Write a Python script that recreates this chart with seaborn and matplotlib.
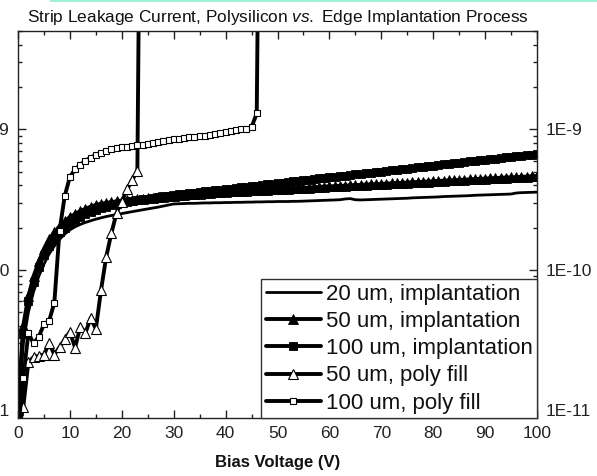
import numpy as np
import matplotlib
matplotlib.use("Agg")
import matplotlib.pyplot as plt
import seaborn as sns
from matplotlib.ticker import MultipleLocator, FixedLocator, FixedFormatter, LogLocator, NullFormatter
from matplotlib.patches import Rectangle

# ---------------- data (currents in units of 1E-10 A) ----------------
volts_impl = list(range(0, 101))

i_20um_impl = [
    0.10, 0.30, 0.50, 0.70, 0.90, 1.10, 1.30, 1.48, 1.65, 1.80,
    1.93, 2.03, 2.11, 2.18, 2.24, 2.30, 2.35, 2.40, 2.44, 2.48,
    2.52, 2.56, 2.60, 2.64, 2.68, 2.72, 2.76, 2.80, 2.85, 2.90,
    2.95, 2.96, 2.97, 2.98, 2.98, 2.99, 3.00, 3.00, 3.01, 3.01,
    3.02, 3.02, 3.03, 3.03, 3.04, 3.04, 3.05, 3.05, 3.06, 3.06,
    3.07, 3.07, 3.07, 3.08, 3.08, 3.09, 3.10, 3.11, 3.12, 3.13,
    3.14, 3.15, 3.16, 3.20, 3.22, 3.16, 3.15, 3.16, 3.17, 3.18,
    3.19, 3.20, 3.21, 3.22, 3.23, 3.24, 3.26, 3.27, 3.28, 3.29,
    3.30, 3.31, 3.33, 3.34, 3.35, 3.36, 3.37, 3.38, 3.40, 3.41,
    3.42, 3.43, 3.44, 3.45, 3.46, 3.47, 3.53, 3.55, 3.56, 3.57,
    3.58,
]

i_50um_impl = [
    0.10, 0.40, 0.65, 0.90, 1.15, 1.40, 1.65, 1.85, 2.05, 2.22,
    2.38, 2.50, 2.62, 2.72, 2.82, 2.90, 2.96, 3.00, 3.04, 3.08,
    3.12, 3.14, 3.17, 3.20, 3.22, 3.25, 3.27, 3.30, 3.32, 3.35,
    3.38, 3.40, 3.43, 3.45, 3.48, 3.50, 3.52, 3.54, 3.56, 3.58,
    3.60, 3.62, 3.63, 3.65, 3.66, 3.68, 3.70, 3.71, 3.73, 3.74,
    3.76, 3.78, 3.80, 3.81, 3.83, 3.85, 3.86, 3.88, 3.90, 3.92,
    3.93, 3.95, 3.97, 3.98, 4.00, 4.02, 4.03, 4.05, 4.07, 4.08,
    4.10, 4.12, 4.14, 4.15, 4.17, 4.19, 4.21, 4.23, 4.24, 4.26,
    4.28, 4.30, 4.32, 4.34, 4.35, 4.37, 4.39, 4.41, 4.43, 4.45,
    4.47, 4.49, 4.51, 4.53, 4.55, 4.56, 4.58, 4.60, 4.62, 4.64,
    4.66,
]

i_100um_impl = [
    0.10, 0.35, 0.60, 0.82, 1.05, 1.27, 1.48, 1.67, 1.85, 2.00,
    2.15, 2.28, 2.40, 2.50, 2.60, 2.68, 2.75, 2.82, 2.88, 2.94,
    3.00, 3.05, 3.10, 3.14, 3.18, 3.22, 3.26, 3.30, 3.34, 3.38,
    3.42, 3.45, 3.48, 3.52, 3.55, 3.59, 3.62, 3.66, 3.69, 3.73,
    3.76, 3.80, 3.84, 3.87, 3.91, 3.95, 3.99, 4.03, 4.07, 4.11,
    4.15, 4.19, 4.23, 4.27, 4.31, 4.35, 4.39, 4.43, 4.48, 4.52,
    4.56, 4.61, 4.65, 4.70, 4.74, 4.79, 4.83, 4.88, 4.93, 4.98,
    5.02, 5.07, 5.12, 5.17, 5.22, 5.27, 5.32, 5.37, 5.42, 5.48,
    5.53, 5.58, 5.64, 5.69, 5.75, 5.80, 5.86, 5.92, 5.97, 6.03,
    6.09, 6.15, 6.21, 6.27, 6.33, 6.39, 6.45, 6.51, 6.57, 6.63,
    6.70,
]

volts_50um_poly = list(range(0, 25))
i_50um_poly = [
    0.07, 0.105, 0.22, 0.24, 0.245, 0.25, 0.30, 0.25, 0.282, 0.32,
    0.363, 0.28, 0.395, 0.357, 0.455, 0.38, 0.72, 1.24, 1.83, 2.55,
    3.06, 3.74, 4.36, 5.10, 100000.0,
]

volts_100um_poly = list(range(0, 48))
i_100um_poly = [
    0.07, 0.17, 0.355, 0.30, 0.335, 0.41, 0.435, 0.585, 1.90, 3.36,
    4.60, 5.20, 5.60, 6.00, 6.30, 6.60, 6.85, 7.05, 7.25, 7.40,
    7.50, 7.55, 7.60, 7.70, 7.80, 7.90, 8.00, 8.15, 8.30, 8.40,
    8.50, 8.60, 8.70, 8.80, 8.85, 8.95, 9.05, 9.20, 9.35, 9.50,
    9.65, 9.80, 9.90, 10.00, 10.05, 10.40, 13.00, 100000.0,
]

series_labels = ["20 um, implantation", "50 um, implantation", "100 um, implantation",
                 "50 um, poly fill", "100 um, poly fill"]
y_major_ticks = [1e-11, 1e-10, 1e-9]
y_tick_labels = ["1E-11", "1E-10", "1E-9"]
unit = 1e-10

# ---------------- style ----------------
sns.set_style("ticks")
plt.rcParams["font.family"] = ["Liberation Sans", "DejaVu Sans"]
plt.rcParams["mathtext.fontset"] = "custom"
plt.rcParams["mathtext.rm"] = "Liberation Sans"
plt.rcParams["mathtext.it"] = "Liberation Sans:italic"
plt.rcParams["text.color"] = "#111111"
plt.rcParams["axes.labelcolor"] = "#111111"
plt.rcParams["xtick.color"] = "#222222"
plt.rcParams["ytick.color"] = "#222222"

fig = plt.figure(figsize=(5.97, 4.76), dpi=100)
ax = fig.add_axes([18 / 597, 1 - 418 / 476, 519 / 597, 387 / 476])

common = dict(ax=ax, color="black", legend=False, sort=False, errorbar=None)

sns.lineplot(x=volts_impl, y=np.array(i_20um_impl) * unit, linewidth=2.0,
             label=series_labels[0], **common)
sns.lineplot(x=volts_impl, y=np.array(i_50um_impl) * unit, linewidth=2.8,
             marker="^", markersize=7, markerfacecolor="black",
             markeredgecolor="black", markeredgewidth=0.6,
             label=series_labels[1], **common)
sns.lineplot(x=volts_impl, y=np.array(i_100um_impl) * unit, linewidth=2.8,
             marker="s", markersize=5.5, markerfacecolor="black",
             markeredgecolor="black", markeredgewidth=0.6,
             label=series_labels[2], **common)
sns.lineplot(x=volts_50um_poly, y=np.array(i_50um_poly) * unit, linewidth=2.8,
             marker="^", markersize=6.5, markerfacecolor="white",
             markeredgecolor="black", markeredgewidth=0.8,
             label=series_labels[3], **common)
sns.lineplot(x=volts_100um_poly, y=np.array(i_100um_poly) * unit, linewidth=2.8,
             marker="s", markersize=4.8, markerfacecolor="white",
             markeredgecolor="black", markeredgewidth=0.8,
             label=series_labels[4], **common)

ax.set_yscale("log")
ax.set_xlim(0, 100)
ax.set_ylim(8.84e-12, 5.02e-9)
ax.xaxis.set_major_locator(MultipleLocator(10))
ax.xaxis.set_minor_locator(MultipleLocator(5))
ax.yaxis.set_major_locator(FixedLocator(y_major_ticks))
ax.yaxis.set_major_formatter(FixedFormatter(y_tick_labels))
ax.yaxis.set_minor_locator(LogLocator(base=10, subs=np.arange(2, 10)))
ax.yaxis.set_minor_formatter(NullFormatter())

ax.tick_params(which="both", direction="in", top=True, right=True,
               labelleft=True, labelright=True, labelsize=12.5, pad=6, width=1.0)
ax.tick_params(which="major", length=5.5)
ax.tick_params(which="minor", length=3)
for s in ax.spines.values():
    s.set_linewidth(1.0)
    s.set_color("#222222")

ax.set_ylabel("")
ax.set_xlabel("Bias Voltage (V)", fontsize=12, fontweight="bold", labelpad=10)

fig.text(277.5 / 597, 1 - 17.5 / 476,
         r"Strip Leakage Current, Polysilicon $\mathit{vs.}$ Edge Implantation Process",
         ha="center", va="center", fontsize=12.4)

handles = ax.get_lines()[:5]
leg = ax.legend(handles, series_labels, loc="lower right", bbox_to_anchor=(1, 0),
                borderaxespad=0, frameon=True, fancybox=False, fontsize=16,
                handlelength=2.5, handletextpad=0.2, labelspacing=0.28,
                borderpad=0.2, edgecolor="#333333", framealpha=1)
leg.get_frame().set_linewidth(1.0)

fig.patches.append(Rectangle((50 / 597, 1 - 1.5 / 476), 1 - 50 / 597, 1.5 / 476,
                             transform=fig.transFigure, facecolor="#a4f0d4",
                             edgecolor="none"))

fig.savefig("out.png", dpi=100)
